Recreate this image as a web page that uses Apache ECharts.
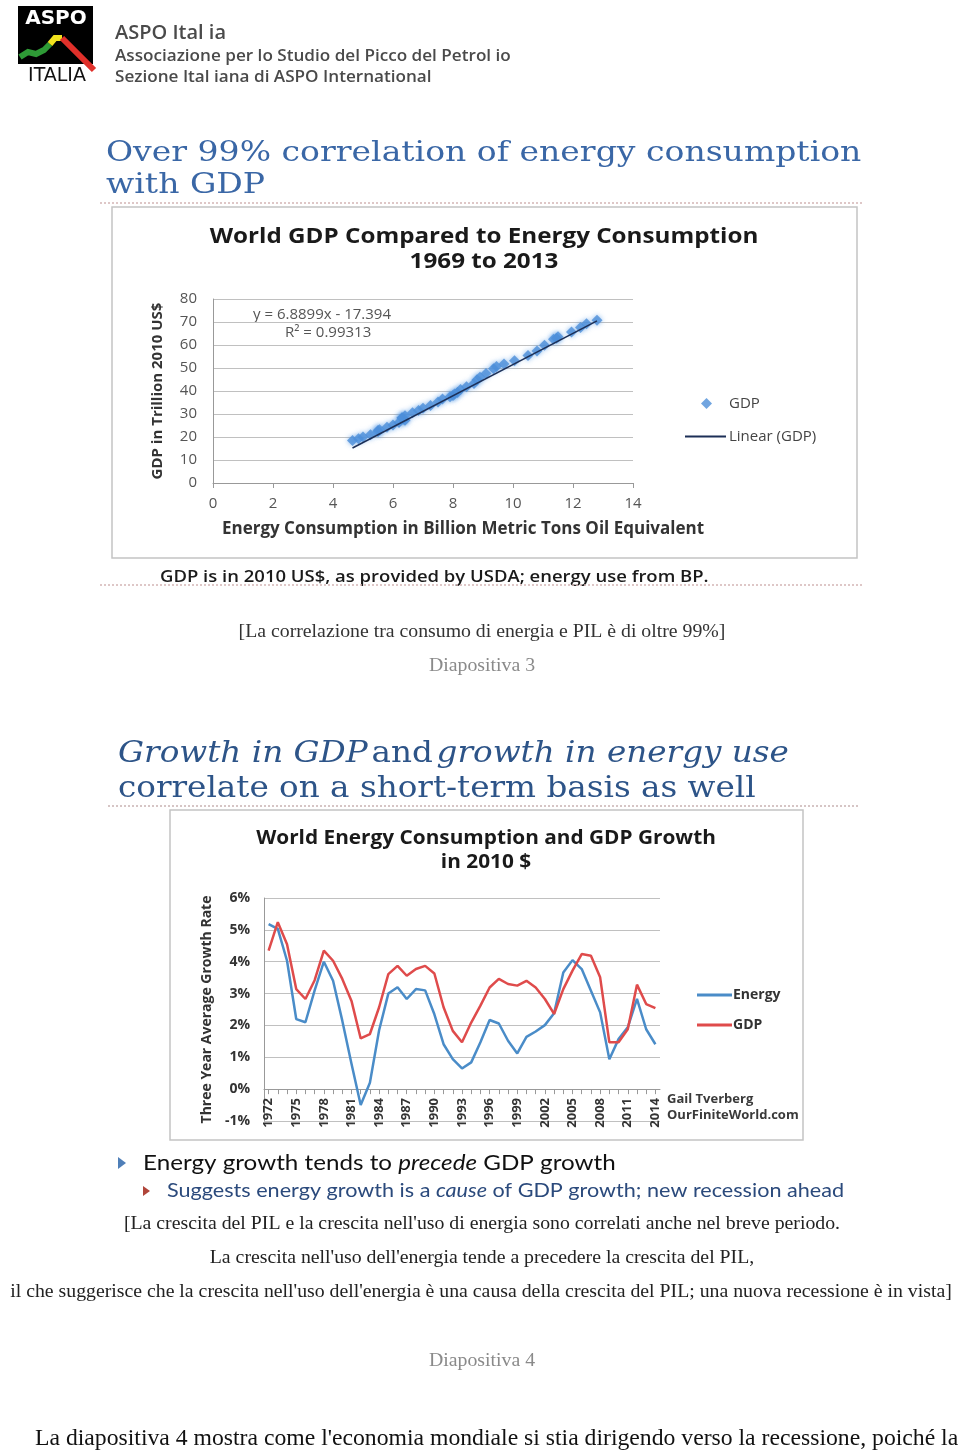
<!DOCTYPE html>
<html>
<head>
<meta charset="utf-8">
<script src="https://cdn.jsdelivr.net/npm/echarts@6/dist/echarts.min.js"></script>
<style>
html,body{margin:0;padding:0;background:#fff;}
#c{width:960px;height:1453px;}
</style>
</head>
<body>
<div id="c"></div>
<script>
// ---- Chart 1: World GDP vs Energy Consumption, 1969-2013 ----
const years1 = [1969,1970,1971,1972,1973,1974,1975,1976,1977,1978,1979,1980,1981,1982,1983,1984,1985,1986,1987,1988,1989,1990,1991,1992,1993,1994,1995,1996,1997,1998,1999,2000,2001,2002,2003,2004,2005,2006,2007,2008,2009,2010,2011,2012,2013];
const energy1 = [4.65,4.85,5.0,5.25,5.5,5.5,5.55,5.8,6.0,6.2,6.4,6.35,6.3,6.3,6.4,6.65,6.85,7.0,7.25,7.5,7.65,7.9,8.0,8.05,8.15,8.25,8.45,8.7,8.8,8.9,9.1,9.35,9.45,9.7,10.05,10.5,10.8,11.05,11.35,11.5,11.45,11.95,12.25,12.45,12.8];
const gdp1 = [18.5,19.2,20.0,21.0,22.3,22.8,23.1,24.2,25.2,26.3,27.3,27.8,28.3,28.4,29.2,30.5,31.5,32.5,33.7,35.2,36.5,37.5,38.0,38.7,39.4,40.6,41.9,43.3,44.9,46.0,47.6,49.7,50.6,51.7,53.2,55.4,57.4,59.9,62.5,63.6,62.9,65.6,67.6,69.2,70.8];
const trendX = [4.65,12.8];
const trendY = [15.2,70.5];
const xTicks1 = {min:0,max:14,interval:2};
const yTicks1 = {min:0,max:80,interval:10};

// ---- Chart 2: Three-year average growth rates (%) ----
const years2 = ['1972','1973','1974','1975','1976','1977','1978','1979','1980','1981','1982','1983','1984','1985','1986','1987','1988','1989','1990','1991','1992','1993','1994','1995','1996','1997','1998','1999','2000','2001','2002','2003','2004','2005','2006','2007','2008','2009','2010','2011','2012','2013','2014'];
const energyGrowth = [5.18,5.03,4.03,2.2,2.1,3.1,4.0,3.4,2.15,0.8,-0.5,0.2,1.85,3.0,3.2,2.83,3.14,3.1,2.35,1.41,0.94,0.65,0.84,1.47,2.17,2.06,1.52,1.12,1.64,1.81,2.01,2.38,3.66,4.05,3.77,3.09,2.41,0.94,1.57,1.94,2.83,1.88,1.41];
const gdpGrowth = [4.35,5.24,4.55,3.14,2.83,3.42,4.35,4.03,3.46,2.77,1.59,1.73,2.57,3.61,3.87,3.56,3.77,3.87,3.63,2.57,1.83,1.47,2.09,2.62,3.19,3.46,3.30,3.25,3.40,3.19,2.83,2.36,3.14,3.72,4.24,4.19,3.51,1.47,1.47,1.88,3.28,2.67,2.54];
const yTicks2 = {min:-1,max:6,interval:1};

const chart = echarts.init(document.getElementById('c'), null, {renderer:'canvas'});

const serifTitle = '"DejaVu Serif", serif';
const sans = '"Open Sans", "DejaVu Sans", sans-serif';
const capFont = '"Liberation Serif", "Times New Roman", serif';

function txt(x, y, text, font, fill, align, sx) {
  return {type:'text', x:x, y:y, scaleX:sx||1, style:{text:text, font:font, fill:fill, align:align||'left', verticalAlign:'middle'}};
}

const graphics = [
  // logo
  {type:'rect', shape:{x:18,y:6,width:75,height:58}, style:{fill:'#000'}},
  txt(56,19,'ASPO','bold 20px "DejaVu Sans", sans-serif','#fff','center'),
  {type:'polyline', shape:{points:[[20,57],[28,52],[36,54],[44,50],[50,44]]}, style:{stroke:'#2e9a36',lineWidth:6,fill:null}},
  {type:'polyline', shape:{points:[[50,44],[55,38],[62,38]]}, style:{stroke:'#f2e21e',lineWidth:6,fill:null}},
  {type:'polyline', shape:{points:[[62,38],[72,48],[82,58],[94,70]]}, style:{stroke:'#e0302a',lineWidth:6,fill:null}},
  txt(57,76,'ITALIA','19px "DejaVu Sans", sans-serif','#111','center'),
  txt(115,33,'ASPO Ital ia','600 20px ' + sans,'#4a4a4a'),
  txt(115,56,'Associazione per lo Studio del Picco del Petrol io','600 16px ' + sans,'#4a4a4a','left',1.07),
  txt(115,77,'Sezione Ital iana di ASPO International','600 16px ' + sans,'#4a4a4a','left',1.07),

  // slide 1
  txt(106,154,'Over 99% correlation of energy consumption','28px ' + serifTitle,'#3a67a6','left',1.18),
  txt(106,186,'with GDP','28px ' + serifTitle,'#3a67a6','left',1.18),
  {type:'line', shape:{x1:100,y1:203,x2:862,y2:203}, style:{stroke:'#d4b5b5',lineWidth:1.5,lineDash:[2,2]}},
  {type:'rect', shape:{x:112,y:207,width:745,height:351}, style:{fill:null,stroke:'#c4c4c4',lineWidth:1.5}},
  txt(484,237,'World GDP Compared to Energy Consumption','bold 22px ' + sans,'#1a1a1a','center',1.1),
  txt(484,262,'1969 to 2013','bold 22px ' + sans,'#1a1a1a','center',1.1),
  txt(253,315,'y = 6.8899x - 17.394','15px ' + sans,'#555'),
  txt(285,333,'R\u00b2 = 0.99313','15px ' + sans,'#555'),
  txt(160,577,'GDP is in 2010 US$, as provided by USDA; energy use from BP.','600 16.5px ' + sans,'#1a1a1a','left',1.12),
  {type:'line', shape:{x1:100,y1:585,x2:862,y2:585}, style:{stroke:'#d4b5b5',lineWidth:1.5,lineDash:[2,2]}},
  txt(482,632,'[La correlazione tra consumo di energia e PIL \u00e8 di oltre 99%]','19.8px ' + capFont,'#333','center'),
  txt(482,666,'Diapositiva 3','19.8px ' + capFont,'#8a8a8a','center'),

  // slide 2
  {type:'text', x:118, y:754, scaleX:1.125, style:{
    text:'{i|Growth in GDP} {n|and} {i|growth in energy use}',
    verticalAlign:'middle',
    rich:{
      i:{font:'italic 29px ' + serifTitle, fill:'#2d5488'},
      n:{font:'29px ' + serifTitle, fill:'#2d5488'}
    }}},
  txt(118,789,'correlate on a short-term basis as well','29px ' + serifTitle,'#2d5488','left',1.125),
  {type:'line', shape:{x1:108,y1:806,x2:858,y2:806}, style:{stroke:'#c9b3b3',lineWidth:1.5,lineDash:[2,2]}},
  {type:'rect', shape:{x:170,y:810,width:633,height:330}, style:{fill:null,stroke:'#c4c4c4',lineWidth:1.5}},
  txt(486,838,'World Energy Consumption and GDP Growth','bold 20px ' + sans,'#1a1a1a','center',1.04),
  txt(486,862,'in 2010 $','bold 20px ' + sans,'#1a1a1a','center',1.04),
  txt(667,1099,'Gail Tverberg','bold 13px ' + sans,'#3a3a3a'),
  txt(667,1115,'OurFiniteWorld.com','bold 13px ' + sans,'#3a3a3a'),
  {type:'polygon', shape:{points:[[118,1157],[126,1163],[118,1169]]}, style:{fill:'#4f7fb8'}},
  {type:'text', x:143, y:1163, scaleX:1.1, style:{
    text:'Energy growth tends to {i|precede} GDP growth',
    font:'22px "Lato", ' + sans, fill:'#111', verticalAlign:'middle',
    rich:{i:{font:'italic 22px "Lato", ' + sans, fill:'#111'}}}},
  {type:'polygon', shape:{points:[[143,1186],[150,1191],[143,1196]]}, style:{fill:'#b0453a'}},
  {type:'text', x:167, y:1191, scaleX:1.08, style:{
    text:'Suggests energy growth is a {i|cause} of GDP growth; new recession ahead',
    font:'20px "Lato", ' + sans, fill:'#2b4a7c', verticalAlign:'middle',
    rich:{i:{font:'italic 20px "Lato", ' + sans, fill:'#2b4a7c'}}}},
  txt(482,1224,"[La crescita del PIL e la crescita nell'uso di energia sono correlati anche nel breve periodo.",'19.8px ' + capFont,'#222','center'),
  txt(482,1258,"La crescita nell'uso dell'energia tende a precedere la crescita del PIL,",'19.8px ' + capFont,'#222','center'),
  txt(481,1292,"il che suggerisce che la crescita nell'uso dell'energia \u00e8 una causa della crescita del PIL; una nuova recessione \u00e8 in vista]",'19.8px ' + capFont,'#222','center'),
  txt(482,1361,'Diapositiva 4','19.8px ' + capFont,'#8a8a8a','center'),
  txt(35,1439,"La diapositiva 4 mostra come l'economia mondiale si stia dirigendo verso la recessione, poich\u00e9 la",'23.7px ' + capFont,'#111')
];

const axisGray = '#999';
const option = {
  backgroundColor:'#fff',
  animation:false,
  grid:[
    {left:213, top:299, width:420, height:184},
    {left:264, top:898, width:396, height:223}
  ],
  xAxis:[
    {gridIndex:0, type:'value', min:xTicks1.min, max:xTicks1.max, interval:xTicks1.interval,
      axisLine:{show:true,lineStyle:{color:axisGray}}, axisTick:{show:true,length:5,lineStyle:{color:axisGray}},
      splitLine:{show:false},
      axisLabel:{color:'#555', fontSize:15, margin:13, fontFamily:'"Open Sans", sans-serif'},
      name:'Energy Consumption in Billion Metric Tons Oil Equivalent', nameLocation:'middle', nameGap:38,
      nameTextStyle:{fontWeight:'bold', fontSize:17, color:'#333', fontFamily:'"Open Sans", sans-serif', padding:[0,0,0,80]}
    },
    {gridIndex:1, type:'category', data:years2, boundaryGap:true,
      axisLine:{show:true,onZero:true,lineStyle:{color:axisGray}},
      axisTick:{show:true,interval:0,alignWithLabel:true,length:5,lineStyle:{color:axisGray}},
      axisLabel:{interval:2, rotate:90, color:'#333', fontWeight:'bold', fontSize:13, margin:-23, fontFamily:'"Open Sans", sans-serif'},
      splitLine:{show:false}
    }
  ],
  yAxis:[
    {gridIndex:0, type:'value', min:yTicks1.min, max:yTicks1.max, interval:yTicks1.interval,
      axisLine:{show:true,lineStyle:{color:axisGray}}, axisTick:{show:false},
      splitLine:{show:true,lineStyle:{color:'#c0c0c0'}},
      axisLabel:{color:'#555', fontSize:15, margin:16, fontFamily:'"Open Sans", sans-serif'},
      name:'GDP in Trillion 2010 US$', nameLocation:'middle', nameGap:48, nameRotate:90,
      nameTextStyle:{fontWeight:'bold', fontSize:15, color:'#333', fontFamily:'"Open Sans", sans-serif'}
    },
    {gridIndex:1, type:'value', min:yTicks2.min, max:yTicks2.max, interval:yTicks2.interval,
      axisLine:{show:true,lineStyle:{color:axisGray}}, axisTick:{show:false},
      splitLine:{show:true,lineStyle:{color:'#c0c0c0'}},
      axisLabel:{color:'#333', fontSize:14, fontWeight:'bold', margin:14, formatter:function(v){return v+'%';}, fontFamily:'"Open Sans", sans-serif'},
      name:'Three Year Average Growth Rate', nameLocation:'middle', nameGap:50, nameRotate:90,
      nameTextStyle:{fontWeight:'bold', fontSize:14, color:'#333', fontFamily:'"Open Sans", sans-serif'}
    }
  ],
  legend:[
    {left:696, top:391, itemWidth:11, itemHeight:11, data:[{name:'GDP',icon:'diamond'}],
      textStyle:{fontSize:15,color:'#444',padding:[0,0,0,12],fontFamily:'"Open Sans", sans-serif'}},
    {left:680, top:424, itemWidth:41, itemHeight:2, data:[{name:'Linear (GDP)',icon:'rect'}],
      textStyle:{fontSize:15,color:'#444',padding:[0,0,0,-2],fontFamily:'"Open Sans", sans-serif'}},
    {left:692, top:981, orient:'vertical', itemWidth:35, itemHeight:3, itemGap:12,
      data:[{name:'Energy',icon:'rect'},{name:'GDP growth',icon:'rect'}],
      formatter:function(n){return n==='GDP growth'?'GDP':n;},
      textStyle:{fontSize:14,fontWeight:'bold',color:'#333',padding:[0,0,0,-4],lineHeight:18,fontFamily:'"Open Sans", sans-serif'}}
  ],
  series:[
    {name:'GDP', type:'scatter', xAxisIndex:0, yAxisIndex:0, symbol:'diamond', symbolSize:11,
      itemStyle:{color:'#4d8fd8', shadowBlur:5, shadowColor:'rgba(80,150,230,0.8)'},
      data: energy1.map(function(e,i){return [e, gdp1[i]];})},
    {name:'Linear (GDP)', type:'line', xAxisIndex:0, yAxisIndex:0, symbol:'none',
      lineStyle:{color:'#1c2f57', width:1.5}, itemStyle:{color:'#1c2f57'},
      data: trendX.map(function(x,i){return [x, trendY[i]];})},
    {name:'Energy', type:'line', xAxisIndex:1, yAxisIndex:1, symbol:'none',
      lineStyle:{color:'#4a8cc8', width:2.5}, itemStyle:{color:'#4a8cc8'}, data:energyGrowth},
    {name:'GDP growth', type:'line', xAxisIndex:1, yAxisIndex:1, symbol:'none',
      lineStyle:{color:'#df4b4b', width:2.5}, itemStyle:{color:'#df4b4b'}, data:gdpGrowth}
  ],
  graphic: graphics
};
chart.setOption(option);
</script>
</body>
</html>
